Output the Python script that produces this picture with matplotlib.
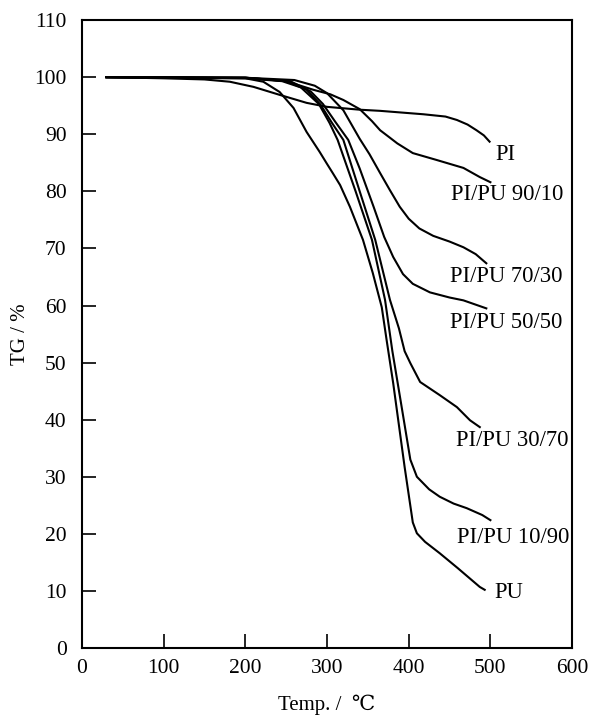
import matplotlib
matplotlib.use("Agg")
from matplotlib import pyplot as plt

plt.rcParams['font.family'] = ['Liberation Serif', 'DejaVu Serif', 'DejaVu Sans']

# temperature (deg C) / weight (%) pairs
pi_t = [30, 100, 150, 181, 210, 242, 275, 300, 340, 365, 418, 445, 459, 472, 483, 492, 499]
pi_w = [100, 99.8, 99.6, 99.2, 98.3, 96.9, 95.5, 94.8, 94.3, 94.1, 93.5, 93.1, 92.5, 91.7, 90.7, 89.8, 88.7]

pu90_t = [30, 200, 250, 283, 304, 320, 340, 355, 365, 376, 386, 405, 434, 467, 487, 500]
pu90_w = [100, 99.9, 99.3, 97.8, 97.0, 96.0, 94.4, 92.3, 90.7, 89.5, 88.4, 86.7, 85.5, 84.1, 82.5, 81.6]

pu70_t = [30, 200, 260, 285, 300, 320, 340, 352, 365, 377, 389, 400, 413, 430, 450, 467, 482, 495]
pu70_w = [100, 99.9, 99.5, 98.5, 97.2, 94.2, 89.2, 86.5, 83.2, 80.2, 77.3, 75.2, 73.5, 72.2, 71.2, 70.2, 69.0, 67.4]

pu50_t = [30, 200, 255, 280, 295, 310, 326, 340, 357, 370, 381, 393, 405, 426, 450, 467, 495]
pu50_w = [100, 99.9, 99.3, 97.5, 95.3, 92.2, 89.0, 84.0, 77.3, 72.0, 68.5, 65.5, 63.8, 62.3, 61.4, 60.9, 59.5]

pu30_t = [30, 200, 250, 275, 292, 306, 320, 340, 359, 377, 388, 395, 402, 414, 438, 459, 475, 487]
pu30_w = [100, 99.9, 99.3, 97.8, 95.2, 92.0, 89.0, 80.0, 71.5, 61.0, 56.0, 52.0, 49.9, 46.6, 44.3, 42.2, 39.9, 38.7]

pu10_t = [30, 200, 245, 268, 290, 303, 313, 335, 355, 371, 380, 390, 402, 410, 425, 438, 455, 471, 490, 500]
pu10_w = [100, 99.8, 99.3, 98.2, 95.3, 92.0, 89.0, 80.0, 71.5, 61.0, 52.0, 43.4, 33.0, 30.0, 27.8, 26.5, 25.3, 24.5, 23.3, 22.4]

pu_t = [30, 200, 222, 242, 259, 275, 291, 300, 307, 316, 328, 344, 356, 367, 373, 381, 395, 405, 410, 420, 438, 460, 487, 493]
pu_w = [100, 99.8, 99.2, 97.4, 94.6, 90.4, 86.9, 84.8, 83.2, 81.1, 77.3, 71.5, 65.7, 59.7, 53.9, 46.4, 31.7, 22.0, 20.1, 18.6, 16.6, 14.0, 10.7, 10.2]

labels = ["PI", "PI/PU 90/10", "PI/PU 70/30", "PI/PU 50/50", "PI/PU 30/70", "PI/PU 10/90", "PU"]
label_x = [518, 521, 519, 519, 527, 528, 523]
label_y = [86.4, 79.5, 65.0, 57.0, 36.3, 19.3, 9.8]

curves = [(pi_t, pi_w), (pu90_t, pu90_w), (pu70_t, pu70_w), (pu50_t, pu50_w),
          (pu30_t, pu30_w), (pu10_t, pu10_w), (pu_t, pu_w)]

fig = plt.figure(figsize=(5.91, 7.17), dpi=100)
ax = fig.add_axes([0.1387, 0.0962, 0.8293, 0.8758])

for t, w in curves:
    ax.plot(t, w, color="black", linewidth=1.5)

for lab, lx, ly in zip(labels, label_x, label_y):
    ax.text(lx, ly, lab, ha="center", va="center", fontsize=16.3)

ax.set_xlim(0, 600)
ax.set_ylim(0, 110)
ax.set_xticks(range(0, 601, 100))
ax.set_yticks(range(0, 111, 10))
ax.tick_params(direction="in", length=10, width=1.2, labelsize=15.5, pad=8)
ax.tick_params(axis="y", pad=11)
for s in ax.spines.values():
    s.set_linewidth(1.5)
ax.set_xlabel("Temp. /  ℃", fontsize=15, labelpad=12)
ax.set_ylabel("TG / %", fontsize=15, labelpad=3)

fig.savefig("out.png", dpi=100)
